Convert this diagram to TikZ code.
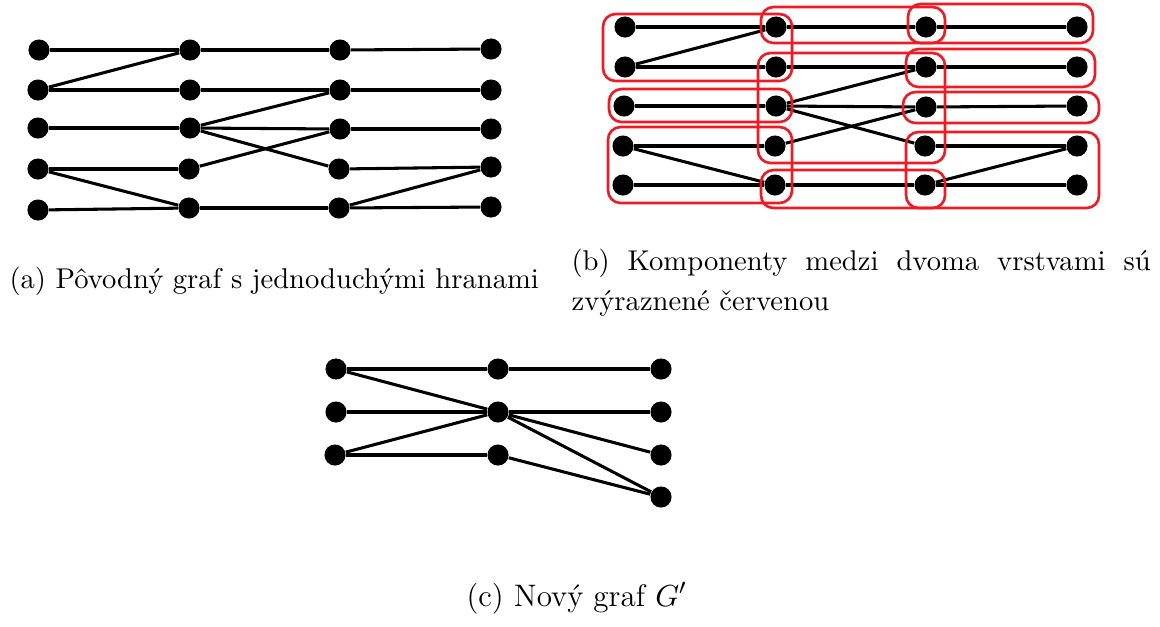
\documentclass[tikz,border=0pt]{standalone}
\usepackage{fontspec}
\definecolor{compred}{RGB}{237,28,36}
\begin{document}
\begin{tikzpicture}[x=0.36pt,y=-0.36pt,
  v/.style={circle,fill=black,inner sep=0pt,minimum size=7.6pt},
  edge/.style={line width=1.1pt},
  comp/.style={draw=compred,line width=0.95pt,rounded corners=4.5pt},
  captext/.style={inner sep=0pt,anchor=base west,font=\fontsize{10.3pt}{12pt}\selectfont}]
\useasboundingbox (0,0) rectangle (1160,626);
% graph (a)
\foreach \n/\x/\y in {A1/39/50,B1/190/50,C1/340/50,D1/491/49,
  A2/38/90,B2/190/90,C2/340/90,D2/491/90,
  A3/38/128,B3/190/128,C3/340/129,D3/491/129,
  A4/38/169,B4/189/169,C4/339/169,D4/491/167,
  A5/38/210,B5/189/208,C5/339/208,D5/491/207}
  \node[v] (a\n) at (\x,\y) {};
% graph (b)
\foreach \n/\x/\y in {A1/625/27,B1/776/27,C1/926/27,D1/1077/27,
  A2/625/67,B2/776/67,C2/926/67,D2/1077/67,
  A3/624/106,B3/776/106,C3/926/107,D3/1077/106,
  A4/623/146,B4/775/146,C4/925/146,D4/1077/146,
  A5/623/185,B5/775/185,C5/925/185,D5/1077/185}
  \node[v] (b\n) at (\x,\y) {};
\foreach \p in {a,b}
  \foreach \u/\w in {A1/B1,B1/C1,C1/D1,A2/B1,A2/B2,B2/C2,C2/D2,
    A3/B3,B3/C2,B3/C3,B3/C4,C3/D3,A4/B4,B4/C3,A4/B5,C4/D4,
    A5/B5,B5/C5,C5/D4,C5/D5}
    \draw[edge] (\p\u) -- (\p\w);
% components
\draw[comp] (603,14) rectangle (792,81);
\draw[comp] (761,7) rectangle (945,43);
\draw[comp] (908,4) rectangle (1093,43);
\draw[comp] (758,53) rectangle (945,163);
\draw[comp] (906,49) rectangle (1095,87);
\draw[comp] (609,89) rectangle (792,122);
\draw[comp] (903,92) rectangle (1099,123);
\draw[comp] (608,127) rectangle (792,203);
\draw[comp] (761,170) rectangle (945,208);
\draw[comp] (906,132) rectangle (1099,208);
% graph (c)
\foreach \n/\x/\y in {L1/336/369,M1/498/369,R1/661/369,
  L2/336/412,M2/498/412,R2/661/412,
  L3/335/455,M3/498/455,R3/661/455,R4/661/497}
  \node[v] (c\n) at (\x,\y) {};
\foreach \u/\w in {L1/M1,M1/R1,L1/M2,L2/M2,L3/M2,L3/M3,M2/R2,M2/R3,M2/R4,M3/R4}
  \draw[edge] (c\u) -- (c\w);
% captions
\node[captext] (capa) at (9,288) {(a) Pôvodný graf s jednoduchými hranami};
\node[captext] (capb1) at (571,270) {\makebox[208.5pt][s]{(b) Komponenty medzi dvoma vrstvami sú}};
\node[captext] (capb2) at (571,310) {zvýraznené červenou};
\node[captext,anchor=base west,font=\fontsize{11.2pt}{13pt}\selectfont] (capc) at (466,606) {(c) Nový graf $G'$};
\end{tikzpicture}
\end{document}
